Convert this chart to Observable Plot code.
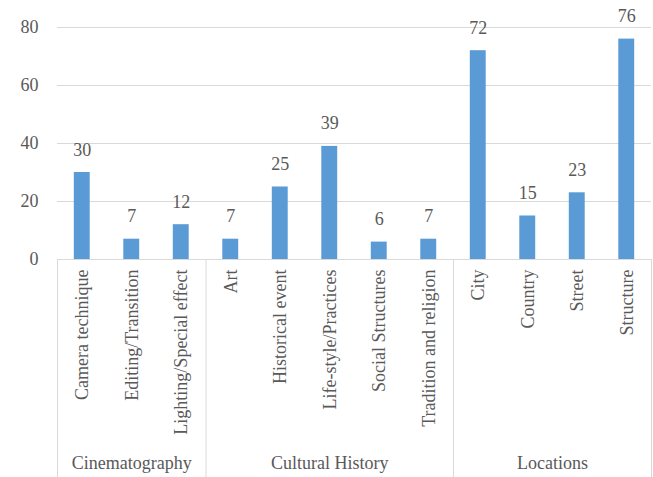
<!DOCTYPE html>
<html>
<head>
<meta charset="utf-8">
<script src="https://cdn.jsdelivr.net/npm/d3@7"></script>
<script src="https://cdn.jsdelivr.net/npm/@observablehq/plot@0.6"></script>
<style>
  html, body { margin: 0; padding: 0; background: #fff; }
  #chart { width: 653px; height: 477px; }
</style>
</head>
<body>
<div id="chart"></div>
<script>
const groups = ["Cinematography", "Cultural History", "Locations"];
const groupCategories = [
  ["Camera technique", "Editing/Transition", "Lighting/Special effect"],
  ["Art", "Historical event", "Life-style/Practices", "Social Structures", "Tradition and religion"],
  ["City", "Country", "Street", "Structure"]
];
const groupValues = [
  [30, 7, 12],
  [7, 25, 39, 6, 7],
  [72, 15, 23, 76]
];
const yTicks = [0, 20, 40, 60, 80];

// Build flat table with category index positions
const rows = [];
const groupSpans = [];
let idx = 0;
groups.forEach((g, gi) => {
  const start = idx;
  groupCategories[gi].forEach((c, ci) => {
    rows.push({group: g, category: c, value: groupValues[gi][ci], i0: idx, i1: idx + 1, mid: idx + 0.5});
    idx++;
  });
  groupSpans.push({group: g, start, end: idx, mid: (start + idx) / 2});
});
const boundaries = [0, ...groupSpans.map(s => s.end)];

const textColor = "#595959";
const font = "Liberation Serif, Tinos, DejaVu Serif Condensed, DejaVu Serif, Noto Serif";

const chart = Plot.plot({
  width: 653,
  height: 477,
  marginLeft: 57,
  marginRight: 2,
  marginTop: 27,
  marginBottom: 218,
  style: {fontSize: "18px", fontFamily: font, color: textColor, background: "#fff"},
  x: {type: "linear", domain: [0, idx], axis: null},
  y: {domain: [0, 80], axis: null},
  marks: [
    Plot.ruleY(yTicks, {stroke: "#d9d9d9", strokeWidth: 1}),
    Plot.rectY(rows, {x1: "i0", x2: "i1", y: "value", fill: "#5B9BD5", insetLeft: 16.8, insetRight: 16.8}),
    Plot.text(rows, {x: "mid", y: "value", text: d => String(d.value), dy: -17, lineAnchor: "bottom", fontSize: 18, fontFamily: font, fill: textColor}),
    Plot.axisY({ticks: yTicks, tickSize: 0, tickPadding: 19, label: null, fontSize: 18, fontFamily: font, tickFormat: d => String(d)}),
    Plot.ruleX(boundaries, {stroke: "#d9d9d9", strokeWidth: 1, insetTop: 232, insetBottom: -218}),
    Plot.text(rows, {x: "mid", y: 0, text: "category", rotate: -90, textAnchor: "end", dy: 10, fontSize: 18, fontFamily: font, fill: textColor}),
    Plot.text(groupSpans, {x: "mid", y: 0, text: "group", dy: 204, fontSize: 18, fontFamily: font, fill: textColor})
  ]
});
document.getElementById("chart").appendChild(chart);
</script>
</body>
</html>
